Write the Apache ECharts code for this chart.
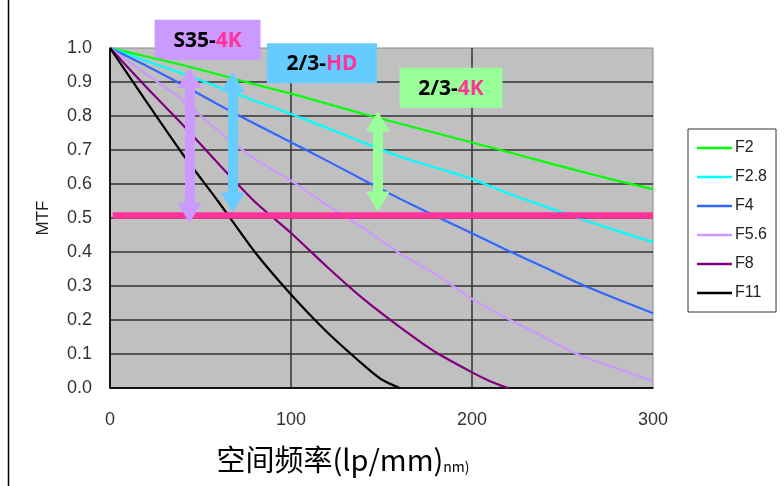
<!DOCTYPE html>
<html><head><meta charset="utf-8">
<script src="https://cdn.jsdelivr.net/npm/echarts@6/dist/echarts.min.js"></script>
<style>html,body{margin:0;padding:0;background:#fff}#c{width:784px;height:486px}</style>
</head><body><div id="c"></div>
<script>
// ---- data ----
const seriesNames = ['F2','F2.8','F4','F5.6','F8','F11'];
const freqs = [0,20,40,60,80,100,120,140,160,180,200,220,240,260,280,300];
const f8Freqs = [0,20,40,60,80,100,120,140,160,180,200,210,220];
const f11Freqs = [0,20,40,60,80,100,120,140,150,160];
const mtfF2  = [1.0,0.975,0.95,0.922,0.893,0.866,0.836,0.806,0.778,0.75,0.722,0.694,0.665,0.637,0.61,0.585];
const mtfF28 = [1.0,0.962,0.925,0.885,0.845,0.806,0.765,0.722,0.681,0.648,0.615,0.572,0.535,0.497,0.463,0.429];
const mtfF4  = [1.0,0.948,0.892,0.833,0.777,0.723,0.668,0.612,0.557,0.505,0.455,0.404,0.355,0.306,0.262,0.22];
const mtfF56 = [1.0,0.923,0.848,0.755,0.674,0.61,0.537,0.47,0.396,0.334,0.262,0.203,0.149,0.095,0.058,0.02];
const mtfF8  = [1.0,0.885,0.775,0.659,0.548,0.456,0.356,0.262,0.18,0.105,0.046,0.02,0.0];
const mtfF11 = [1.0,0.843,0.689,0.547,0.40,0.275,0.164,0.068,0.025,0.0];
const xTicks = [0,100,200,300];
const yTickStep = 0.1;
// annotation values (data units)
const thresholdMTF = 0.508;
const thresholdRange = [1.5, 300];
const arrowNames = ['S35-4K','2/3-HD','2/3-4K'];
const arrowFreq = [43.9, 67.8, 148];
const arrowTop = [0.941, 0.929, 0.813];
const arrowBottom = [0.485, 0.516, 0.519];
const boxFreq = [53.9, 117.1, 188.4];
const boxMTF = [1.024, 0.955, 0.883];
const boxPrefix = ['S35-', '2/3-', '2/3-'];
const boxSuffix = ['4K', 'HD', '4K'];

const colors = ['#00ff00','#00ffff','#3366ff','#cc99ff','#800080','#000000'];
const arrowColors = ['#cc99ff','#66ccff','#99ff99'];
const boxW = [106,110,103], boxH = 40;

const pair = (xs, ys) => xs.map((x,i)=>[x, ys[i]]);
const allData = [pair(freqs,mtfF2), pair(freqs,mtfF28), pair(freqs,mtfF4), pair(freqs,mtfF56), pair(f8Freqs,mtfF8), pair(f11Freqs,mtfF11)];

const headH = 20, plotH = 340;
const off = headH/2/plotH; // symbol is centred on the end point

const series = seriesNames.map((n,i)=>({
  name:n, type:'line', data:allData[i], showSymbol:false, smooth:0.2,
  lineStyle:{color:colors[i], width:2.2}, itemStyle:{color:colors[i]}, z:2, silent:true
}));

series.push({
  type:'line', data:[], silent:true, z:5,
  markLine:{
    silent:true, symbol:['none','none'], animation:false,
    label:{show:false},
    data:[[{coord:[thresholdRange[0],thresholdMTF], lineStyle:{color:'#ff3399', width:6.5, type:'solid'}},
           {coord:[thresholdRange[1],thresholdMTF]}]]
  }
});
arrowNames.forEach((n,i)=>{
  series.push({
    type:'line', data:[], silent:true, z:6,
    markLine:{
      silent:true, animation:false, symbol:['triangle','triangle'], symbolSize:[24,headH],
      label:{show:false},
      lineStyle:{color:arrowColors[i], width:10, type:'solid', opacity:1},
      data:[[{coord:[arrowFreq[i], arrowTop[i]-off]},{coord:[arrowFreq[i], arrowBottom[i]+off]}]]
    }
  });
});

const chart = echarts.init(document.getElementById('c'), null, {renderer:'canvas'});
chart.setOption({
  animation:false,
  backgroundColor:'#fff',
  grid:{left:110, top:48, width:543, height:340, show:true, backgroundColor:'#c0c0c0', borderColor:'#8a8a8a', borderWidth:1},
  legend:{
    orient:'vertical', left:688, top:129, data:seriesNames,
    icon:'rect', itemWidth:35, itemHeight:2.5, itemGap:11,
    padding:[10,9,10,9], borderColor:'#333', borderWidth:1, backgroundColor:'#fff',
    textStyle:{fontSize:16, color:'#222', fontFamily:'Liberation Sans', lineHeight:18, padding:[0,0,0,-2]}
  },
  xAxis:{
    type:'value', min:xTicks[0], max:xTicks[xTicks.length-1], interval:100,
    axisLine:{show:true, lineStyle:{color:'#000', width:1.5}}, axisTick:{show:false},
    axisLabel:{fontSize:18, color:'#333', fontFamily:'Liberation Sans', margin:23},
    splitLine:{show:true, showMaxLine:false, lineStyle:{color:'#333', width:1.5}},
    name:'{a|空间频率(lp/mm)}{b|nm)}', nameLocation:'middle', nameGap:57,
    nameTextStyle:{padding:[0,77,0,0], rich:{
      a:{fontSize:29, color:'#000', fontFamily:'Noto Sans CJK SC'},
      b:{fontSize:14, color:'#000', fontFamily:'Noto Sans CJK SC', padding:[15,0,0,0]}
    }}
  },
  yAxis:{
    type:'value', min:0, max:1, interval:yTickStep,
    axisLine:{show:true, lineStyle:{color:'#000', width:1.5}}, axisTick:{show:false},
    axisLabel:{fontSize:18, color:'#333', fontFamily:'Liberation Sans', margin:18, formatter:v=>v.toFixed(1)},
    splitLine:{show:true, showMaxLine:false, lineStyle:{color:'#333', width:1.5}},
    name:'MTF', nameLocation:'middle', nameGap:58, nameRotate:90,
    nameTextStyle:{fontSize:17, color:'#222', fontFamily:'Liberation Sans'}
  },
  series: series
});

// label boxes positioned through the chart's own coordinate conversion
const graphics = [{type:'line', shape:{x1:8.5,y1:0,x2:8.5,y2:486}, style:{stroke:'#000', lineWidth:1.5}, silent:true, z:100}];
boxFreq.forEach((x,i)=>{
  const p = chart.convertToPixel({gridIndex:0}, [x, boxMTF[i]]);
  graphics.push({
    type:'group', x:p[0], y:p[1], z:100, silent:true,
    children:[
      {type:'rect', shape:{x:-boxW[i]/2, y:-boxH/2, width:boxW[i], height:boxH}, style:{fill:arrowColors[i]}},
      {type:'text', x:0, y:1, style:{
        text:'{a|'+boxPrefix[i]+'}{b|'+boxSuffix[i]+'}', align:'center', verticalAlign:'middle',
        rich:{
          a:{fontSize:21, fontWeight:'bold', fill:'#000', fontFamily:'Noto Sans'},
          b:{fontSize:21, fontWeight:'bold', fill:'#ff3399', fontFamily:'Noto Sans'}
        }
      }}
    ]
  });
});
chart.setOption({graphic:graphics});
</script></body></html>
